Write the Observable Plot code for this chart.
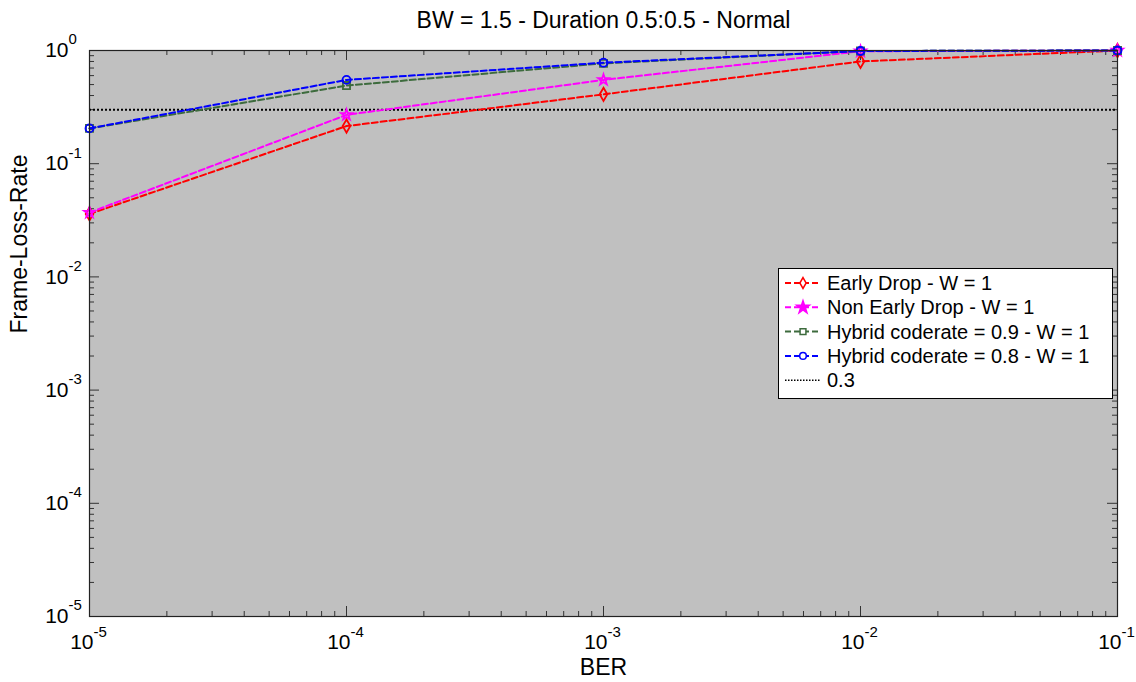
<!DOCTYPE html>
<html><head><meta charset="utf-8">
<script src="https://cdn.jsdelivr.net/npm/d3@7"></script>
<script src="https://cdn.jsdelivr.net/npm/@observablehq/plot@0.6"></script>
<style>
html,body{margin:0;padding:0;background:#fff;overflow:hidden;}
#wrap{position:relative;width:1136px;height:682px;overflow:hidden;font-family:"Liberation Sans",Arial,sans-serif;}
</style></head><body><div id="wrap"></div>
<script>
// ---- data ----
const ber = [1e-5, 1e-4, 1e-3, 1e-2, 1e-1];
const earlyDrop = [0.036, 0.215, 0.41, 0.80, 1.0];
const nonEarlyDrop = [0.037, 0.27, 0.55, 0.985, 1.0];
const hybrid09 = [0.205, 0.49, 0.77, 0.99, 1.0];
const hybrid08 = [0.205, 0.55, 0.78, 0.99, 1.0];
const seriesNames = ["Early Drop - W = 1", "Non Early Drop - W = 1", "Hybrid coderate = 0.9 - W = 1", "Hybrid coderate = 0.8 - W = 1"];
const seriesValues = [earlyDrop, nonEarlyDrop, hybrid09, hybrid08];
const seriesColors = ["#ff0000", "#ff00ff", "#3d6b3d", "#0000ff"];
const seriesSymbols = ["diamond", "star", "square", "circle"];
const threshold = 0.3;
const thresholdLabel = "0.3";
const xMajor = [1e-5, 1e-4, 1e-3, 1e-2, 1e-1];
const xExp = ["-5", "-4", "-3", "-2", "-1"];
const yMajor = [1e-5, 1e-4, 1e-3, 1e-2, 1e-1, 1];
const yExp = ["-5", "-4", "-3", "-2", "-1", "0"];
const title = "BW = 1.5 - Duration 0.5:0.5 - Normal";
const xLabel = "BER";
const yLabel = "Frame-Loss-Rate";

// ---- layout ----
const W = 1136, H = 682;
const mL = 89, mR = 19, mT = 50, mB = 66;
const pw = W - mL - mR, ph = H - mT - mB;
const tickCol = "#333";

const minorOf = (dom, majors) => d3.scaleLog().domain(dom).ticks().filter(t => !majors.some(m => Math.abs(m - t) / m < 1e-9));
const xMinor = minorOf([1e-5, 1e-1], xMajor);
const yMinor = minorOf([1e-5, 1], yMajor);

const rows = seriesValues.flatMap((vals, i) => ber.map((b, j) => ({series: seriesNames[i], ber: b, value: vals[j], i})));
const symR = {diamond: 4, star: 3.4, square: 4, circle: 4};

const seriesMarks = seriesNames.flatMap((name, i) => {
  const data = rows.filter(r => r.i === i);
  return [
    Plot.line(data, {x: "ber", y: "value", stroke: seriesColors[i], strokeWidth: 2, strokeDasharray: "6,3"}),
    Plot.dot(data, {x: "ber", y: "value", stroke: seriesColors[i], symbol: () => seriesSymbols[i], r: symR[seriesSymbols[i]], strokeWidth: 1.8, fill: "none"})
  ];
});

const chart = Plot.plot({
  width: W, height: H,
  marginLeft: mL, marginRight: mR, marginTop: mT, marginBottom: mB,
  style: {background: "#fff", fontFamily: "'Liberation Sans', Arial, sans-serif", overflow: "hidden"},
  x: {type: "log", domain: [1e-5, 1e-1], axis: null},
  y: {type: "log", domain: [1e-5, 1], axis: null},
  marks: [
    Plot.frame({fill: "#c0c0c0", stroke: "none"}),
    Plot.tickX(xMajor, {x: d => d, stroke: tickCol, insetTop: ph - 10}),
    Plot.tickX(xMajor, {x: d => d, stroke: tickCol, insetBottom: ph - 10}),
    Plot.tickX(xMinor, {x: d => d, stroke: tickCol, insetTop: ph - 5}),
    Plot.tickX(xMinor, {x: d => d, stroke: tickCol, insetBottom: ph - 5}),
    Plot.tickY(yMajor, {y: d => d, stroke: tickCol, insetRight: pw - 10}),
    Plot.tickY(yMajor, {y: d => d, stroke: tickCol, insetLeft: pw - 10}),
    Plot.tickY(yMinor, {y: d => d, stroke: tickCol, insetRight: pw - 5}),
    Plot.tickY(yMinor, {y: d => d, stroke: tickCol, insetLeft: pw - 5}),
    Plot.ruleY([threshold], {stroke: "#000", strokeWidth: 2, strokeDasharray: "2,2"}),
    ...seriesMarks,
    Plot.frame({stroke: "#222", strokeWidth: 1.2}),
    Plot.text(xMajor, {x: d => d, frameAnchor: "bottom", text: () => "10", textAnchor: "end", dx: 4, dy: 26, fontSize: 21, lineAnchor: "middle", fill: "#000"}),
    Plot.text(xMajor, {x: d => d, frameAnchor: "bottom", text: (d, i) => xExp[i], textAnchor: "start", dx: 4, dy: 16, fontSize: 15, lineAnchor: "middle", fill: "#000"}),
    Plot.text(yMajor, {y: d => d, frameAnchor: "left", text: () => "10", textAnchor: "end", dx: -21, dy: 0, fontSize: 21, lineAnchor: "middle", fill: "#000"}),
    Plot.text(yMajor, {y: d => d, frameAnchor: "left", text: (d, i) => yExp[i], textAnchor: "start", dx: -21, dy: -11, fontSize: 15, lineAnchor: "middle", fill: "#000"}),
    Plot.text([title], {frameAnchor: "top", text: d => d, dy: -30, fontSize: 23, lineAnchor: "middle", fill: "#000"}),
    Plot.text([xLabel], {frameAnchor: "bottom", text: d => d, dy: 51, fontSize: 23, lineAnchor: "middle", fill: "#000"}),
    Plot.text([yLabel], {frameAnchor: "left", text: d => d, dx: -70, rotate: -90, fontSize: 23, lineAnchor: "middle", fill: "#000"})
  ]
});
const wrap = document.getElementById("wrap");
wrap.appendChild(chart);

// ---- legend ----
const symMap = {diamond: d3.symbolDiamond, star: d3.symbolStar, square: d3.symbolSquare, circle: d3.symbolCircle};
const LW = 335, LH = 131;
const leg = d3.create("svg").attr("width", LW).attr("height", LH)
  .style("position", "absolute").style("left", "778px").style("top", "268px");
leg.append("rect").attr("x", 0.5).attr("y", 0.5).attr("width", LW - 1).attr("height", LH - 1).attr("fill", "#fff").attr("stroke", "#000");
const rowY = i => 15 + i * 24.3;
const entries = seriesNames.map((n, i) => ({label: n, color: seriesColors[i], symbol: seriesSymbols[i], dash: "6,3", w: 2}))
  .concat([{label: thresholdLabel, color: "#000", symbol: null, dash: "1.5,1.5", w: 1.5}]);
entries.forEach((e, i) => {
  const y = rowY(i);
  leg.append("line").attr("x1", 7).attr("x2", 43).attr("y1", y).attr("y2", y)
    .attr("stroke", e.color).attr("stroke-width", e.w).attr("stroke-dasharray", e.dash);
  if (e.symbol) {
    const r = e.symbol === "star" ? 4 : 3.3;
    leg.append("path").attr("d", d3.symbol(symMap[e.symbol], Math.PI * r * r)())
      .attr("transform", `translate(25,${y})`).attr("fill", e.symbol === "star" ? e.color : "#fff")
      .attr("stroke", e.color).attr("stroke-width", 1.5);
  }
  leg.append("text").attr("x", 49).attr("y", y).attr("dy", "0.35em")
    .attr("font-size", 20).attr("font-family", "'Liberation Sans', Arial, sans-serif").attr("fill", "#000").text(e.label);
});
wrap.appendChild(leg.node());
</script>
</body></html>
